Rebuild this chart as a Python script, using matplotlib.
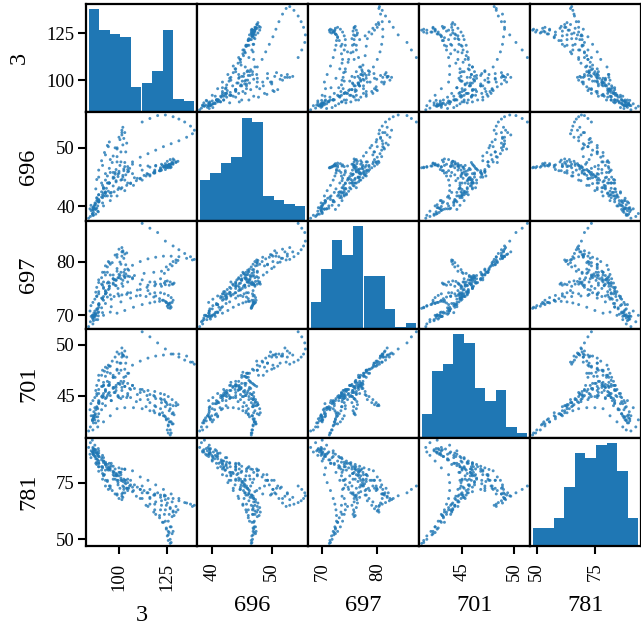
import numpy as np
import pandas as pd
import matplotlib
matplotlib.use("Agg")
import matplotlib.pyplot as plt

# values, one line per stretch of the trajectory
v3 = [112, 116, 120, 124, 128, 131, 134, 137, 139,
      138, 135, 131, 127, 123, 119, 115, 111,
      107, 103, 100, 97, 94, 92, 89.5, 88.5, 87.5, 86.5,
      85.5, 85.0, 85.6, 86.6, 87.6, 88.6,
      89.5, 91, 93, 95, 97, 99, 100.5, 101.5, 102, 101.5, 100, 98, 95.5, 93, 91.5, 89.5,
      88.5, 88, 88.5, 89.5, 91, 92.5, 94, 95, 94.5, 93, 91.5, 89.5,
      91, 94.5, 98.5, 103, 108, 113, 118, 122,
      124.5, 126.5, 128, 129.5, 130.5, 129.5, 127.5, 125.5, 123.5,
      121.5, 118.5, 115, 111, 106, 101.5, 97.5, 94,
      93.5, 95, 97.5, 100, 102.5, 104.5, 105.5, 104.5, 102, 99.5, 98, 98.5, 100.5, 103,
      107, 111, 115, 119, 122.5,
      124.5, 125.5, 126.5, 127, 126.5, 125.5, 125, 125.5, 126.5,
      124, 121, 118.5, 116, 112, 107.5, 103, 99,
      95.5, 92, 89, 86.5, 84.3, 85.2, 86.2,
      87.5, 89.5, 92, 95, 98, 101, 103.5, 104, 102, 99, 95.5, 92,
      91.5, 89.5, 88, 87, 86.5, 87.5, 89,
      91.5, 96, 101, 106, 111, 116, 118.5, 121.5,
      123.5, 125.5, 127, 128, 127.5, 126, 124.5, 123,
      121, 118, 114, 109, 104, 99.5, 95.5,
      93, 94.5, 97, 101, 103.5, 105, 104.5, 102.5, 99.5, 97, 98.5, 101.5,
      102, 107, 112, 116, 119, 122,
      124, 126, 127.5, 128.5, 128, 126.5, 125, 124, 123.5,
      121.5, 118.5, 114.5, 109.5, 104.5, 100, 96,
      93, 91, 89.5, 88, 87, 86.5, 87, 88.5, 89.7, 92,
      93, 95, 97, 99, 101, 102.5, 103, 101.5, 99, 96.5, 94, 92,
      93, 91.5, 89.6, 89, 87.8, 86.8, 86.3, 86.8, 88, 89.3]

v696 = [54.4, 55.0, 55.5, 55.6, 55.3, 54.9, 54.4, 53.7, 53.0,
        52.4, 51.8, 51.2, 50.7, 50.2, 49.6, 49.0, 48.4,
        47.6, 46.8, 46.0, 45.0, 44.0, 43.0, 42.0, 41.0, 40.2, 39.5,
        40.2, 39.6, 39.3, 39.8, 40.6, 41.4,
        41.0, 42.5, 44.5, 46.5, 48.6, 50.0, 51.4, 52.6, 53.5, 53.0, 51.8, 50.0, 48.0, 45.6, 43.6, 42.0,
        41.5, 43.0, 44.6, 46.2, 47.8, 49.2, 50.4, 51.0, 50.2, 48.8, 47.0, 45.0,
        44.0, 44.0, 44.2, 44.5, 44.9, 45.3, 45.7, 46.2,
        46.6, 46.9, 47.2, 47.5, 47.7, 47.6, 47.3, 47.0, 46.7,
        46.4, 46.0, 45.5, 44.7, 43.9, 43.2, 42.5, 41.8,
        43.1, 44.0, 44.9, 45.7, 46.4, 46.8, 46.5, 45.9, 45.3, 45.1, 45.5, 46.3, 47.0, 47.5,
        47.2, 47.0, 46.9, 46.9, 47.0,
        47.0, 46.9, 46.8, 46.7, 46.6, 46.6, 46.7, 46.9, 47.1,
        46.3, 46.1, 45.7, 45.2, 44.5, 43.6, 42.7, 41.8,
        41.0, 40.1, 39.2, 38.5, 38.0, 38.3, 38.8,
        39.6, 40.8, 42.3, 44.0, 45.8, 47.6, 49.3, 50.8, 50.5, 48.5, 45.8, 43.2,
        42.0, 41.2, 40.5, 40.0, 39.8, 40.3, 41.0,
        40.6, 41.8, 43.0, 44.0, 44.8, 45.4, 45.8, 46.1,
        46.8, 47.1, 47.3, 47.4, 47.3, 47.1, 46.9, 46.7,
        46.1, 45.8, 45.2, 44.4, 43.6, 42.9, 42.3,
        41.8, 42.6, 43.5, 44.5, 45.4, 46.0, 46.3, 46.1, 45.5, 44.8, 44.4, 44.6,
        45.0, 45.6, 46.2, 46.7, 47.0, 47.2,
        46.8, 47.2, 47.6, 47.9, 48.1, 48.0, 47.7, 47.3, 46.9,
        46.6, 46.2, 45.6, 44.8, 44.0, 43.2, 42.4,
        42.4, 41.6, 40.8, 39.6, 39.7, 39.4, 39.6, 39.7, 41.0, 41.8,
        42.5, 44.0, 45.8, 47.6, 49.3, 51.6, 52.6, 52.2, 49.8, 47.5, 45.2, 43.2,
        42.2, 41.5, 40.8, 40.1, 39.5, 39.0, 38.7, 38.5, 38.7, 39.1]

v697 = [87.1, 86.2, 85.4, 83.8, 82.9, 82.2, 81.5, 80.9, 80.4,
        80.3, 80.6, 80.9, 81.0, 81.0, 80.8, 80.5, 80.0,
        79.3, 78.5, 77.6, 76.8, 76.0, 75.2, 74.4, 73.6, 73.0, 72.4,
        71.8, 70.8, 69.8, 69.3, 69.8, 71.0,
        72.0, 73.2, 74.6, 76.0, 77.5, 78.7, 79.9, 81.0, 81.8, 82.6, 82.3, 81.2, 79.5, 77.5, 75.6, 74.0,
        73.5, 74.3, 75.2, 76.1, 77.0, 78.0, 79.0, 79.8, 80.0, 79.2, 78.0, 76.6,
        75.8, 76.2, 76.6, 77.0, 77.4, 77.8, 78.0, 78.2,
        79.0, 79.5, 80.0, 80.3, 80.2, 79.8, 79.2, 78.5, 77.8,
        76.8, 76.2, 75.6, 74.8, 74.2, 73.8, 73.5, 73.4,
        74.2, 75.4, 76.6, 77.0, 77.4, 77.3, 77.2, 76.2, 75.4, 75.0, 75.6, 76.5, 77.4, 77.2,
        77.0, 75.8, 74.6, 73.6, 72.8,
        72.4, 72.1, 71.8, 71.5, 71.3, 71.4, 71.7, 72.0, 72.3,
        72.6, 72.6, 72.5, 72.3, 72.0, 71.5, 70.9, 70.4,
        70.6, 70.0, 69.2, 68.4, 67.9, 68.8, 70.0,
        70.8, 72.0, 73.5, 75.0, 76.6, 78.0, 79.4, 81.6, 82.0, 80.8, 77.5, 75.0,
        73.0, 71.5, 70.2, 69.8, 69.9, 70.1, 70.5,
        70.5, 71.6, 72.5, 73.2, 73.7, 74.0, 74.2, 74.2,
        74.0, 73.7, 73.3, 72.8, 72.4, 72.2, 72.4, 72.8,
        73.1, 73.4, 73.5, 73.6, 73.9, 74.0, 73.8,
        74.0, 74.8, 75.8, 76.8, 77.7, 78.4, 78.6, 78.0, 77.0, 76.0, 75.5, 75.9,
        76.5, 76.8, 76.6, 76.2, 75.8, 75.4,
        75.7, 75.6, 75.8, 76.0, 75.8, 76.2, 76.4, 76.3, 76.0,
        75.8, 75.5, 75.2, 74.7, 74.2, 73.6, 73.0,
        72.2, 71.4, 70.6, 70.0, 69.6, 69.8, 70.4, 71.2, 72.0, 72.8,
        74.0, 75.4, 76.8, 78.2, 79.5, 80.6, 81.4, 81.8, 81.3, 79.8, 78.0, 76.2,
        74.4, 73.2, 72.2, 71.2, 70.4, 70.0, 69.5, 69.0, 69.2, 69.9]

v701 = [51.3, 50.8, 50.2, 49.6, 49.1, 48.8, 48.5, 48.3, 48.1,
        48.3, 48.9, 49.1, 49.1, 49.0, 48.9, 48.7, 48.4,
        48.0, 47.6, 47.2, 46.8, 46.4, 46.0, 45.6, 45.2, 44.8, 44.5,
        44.2, 43.6, 43.0, 42.7, 43.1, 43.8,
        44.3, 44.9, 45.6, 46.3, 47.0, 47.6, 48.2, 48.8, 49.0, 49.2, 49.1, 48.8, 47.9, 46.9, 45.9, 45.2,
        45.0, 45.5, 46.0, 46.5, 47.0, 47.4, 47.7, 47.9, 48.0, 47.8, 47.5, 47.0,
        45.9, 46.0, 46.0, 45.9, 45.7, 45.4, 45.0, 44.6,
        44.3, 44.1, 44.0, 44.0, 44.1, 44.3, 44.6, 44.9, 45.1,
        45.2, 45.4, 45.5, 45.6, 45.6, 45.5, 45.3, 45.0,
        44.8, 45.3, 45.8, 46.2, 46.4, 46.2, 45.7, 45.2, 44.9, 44.9, 45.3, 45.8, 46.1, 45.9,
        46.0, 45.3, 44.6, 43.9, 43.3,
        42.6, 42.1, 41.6, 41.3, 41.1, 41.3, 41.6, 42.0, 42.4,
        42.9, 43.1, 43.3, 43.5, 43.7, 43.8, 43.8, 43.7,
        43.0, 42.4, 41.9, 41.6, 41.5, 41.9, 42.6,
        43.8, 44.5, 45.2, 46.0, 46.8, 47.5, 48.2, 48.8, 49.0, 48.3, 47.2, 46.0,
        45.0, 44.3, 43.6, 43.0, 42.6, 42.6, 42.9,
        44.2, 44.5, 44.7, 44.8, 44.6, 44.3, 44.0, 43.7,
        43.0, 42.7, 42.4, 42.2, 42.2, 42.4, 42.7, 43.0,
        43.2, 43.5, 43.9, 44.4, 44.8, 45.0, 45.0,
        44.7, 45.2, 45.8, 46.4, 46.9, 47.2, 47.2, 46.8, 46.2, 45.7, 45.5, 45.8,
        46.2, 46.0, 45.6, 45.1, 44.7, 44.3,
        43.9, 43.5, 43.2, 43.1, 43.3, 43.7, 44.1, 44.4, 44.6,
        44.7, 44.9, 45.0, 45.1, 45.0, 44.8, 44.5,
        44.0, 43.6, 43.2, 42.9, 42.8, 43.0, 43.4, 43.9, 44.4, 44.9,
        45.5, 46.1, 46.8, 47.5, 48.2, 48.9, 49.4, 49.7, 49.3, 48.4, 47.3, 46.3,
        45.4, 44.8, 44.2, 43.7, 43.2, 42.8, 42.5, 42.3, 42.3, 42.5]

v781 = [73.5, 72.0, 70.5, 69.2, 68.0, 67.0, 66.2, 65.5, 65.0,
        64.5, 66.0, 68.0, 70.0, 72.0, 74.0, 76.0, 77.5,
        80.2, 80.8, 81.5, 82.2, 83.0, 83.8, 84.5, 85.5, 86.5, 87.5,
        86.0, 87.5, 89.0, 90.0, 89.5, 88.0,
        88.0, 86.0, 83.5, 81.0, 78.5, 76.0, 72.5, 70.0, 68.5, 67.5, 68.0, 70.0, 72.5, 76.0, 79.0, 82.0,
        84.0, 83.5, 83.0, 82.0, 80.5, 78.5, 76.0, 73.5, 72.0, 73.5, 76.5, 80.0,
        82.0, 80.5, 78.5, 76.0, 74.0, 71.5, 69.5, 67.0,
        65.0, 63.5, 62.5, 62.0, 63.0, 64.5, 66.5, 68.0, 69.5,
        68.5, 69.5, 70.5, 72.0, 74.0, 76.0, 78.0, 81.0,
        82.0, 81.0, 79.5, 78.0, 76.5, 75.0, 73.5, 72.5, 73.5, 75.0, 76.5, 78.0, 79.5, 81.0,
        71.0, 68.0, 64.5, 61.0, 57.5,
        54.5, 52.0, 50.0, 48.6, 48.2, 49.5, 51.5, 53.5, 55.5,
        58.0, 60.5, 63.0, 65.5, 68.0, 71.5, 75.0, 78.5,
        81.5, 84.5, 87.0, 88.5, 90.5, 92.6, 93.7,
        91.5, 89.0, 86.0, 83.5, 81.0, 78.5, 76.0, 72.5, 70.5, 70.0, 73.5, 78.0,
        81.5, 83.5, 85.5, 87.0, 88.0, 88.5, 87.5,
        87.0, 83.5, 79.5, 76.0, 72.0, 68.0, 65.5, 63.0,
        61.0, 58.0, 55.5, 53.5, 52.5, 53.0, 55.0, 57.5,
        59.5, 62.0, 65.0, 69.0, 72.5, 76.0, 80.5,
        83.0, 81.5, 79.5, 77.0, 74.5, 72.5, 71.5, 72.0, 74.0, 76.5, 79.0, 81.0,
        75.5, 73.0, 70.5, 68.5, 66.5, 65.0,
        63.0, 61.0, 60.0, 60.5, 62.0, 64.0, 66.0, 67.5, 69.0,
        69.5, 70.0, 70.5, 73.0, 76.5, 79.5, 82.5,
        83.0, 85.0, 86.5, 88.0, 89.5, 90.5, 89.8, 88.5, 86.5, 84.5,
        84.0, 82.0, 80.0, 78.0, 76.0, 73.0, 70.5, 69.0, 69.5, 71.5, 75.5, 78.5,
        80.5, 82.0, 83.5, 85.0, 86.5, 87.5, 88.5, 89.0, 89.5, 90.0]

cols = ["3", "696", "697", "701", "781"]
tick_vals = {"3": [100, 125], "696": [40, 50], "697": [70, 80],
             "701": [45, 50], "781": [50, 75]}

plt.rcParams["font.family"] = ["Liberation Serif", "DejaVu Serif"]
plt.rcParams["axes.linewidth"] = 1.6

df = pd.DataFrame({"3": v3, "696": v696, "697": v697, "701": v701, "781": v781})

axes = pd.plotting.scatter_matrix(df, figsize=(6.41, 6.26), alpha=0.8, s=18,
                                  diagonal="hist")
fig = axes[0, 0].get_figure()
fig.subplots_adjust(left=86 / 641, right=1.0, bottom=1 - 546 / 626, top=1 - 4 / 626,
                    wspace=0, hspace=0)

n = len(cols)
for i in range(n):
    for j in range(n):
        ax = axes[i, j]
        ax.tick_params(labelsize=13.5, length=6, width=1.5)
        ax.tick_params(axis="x", pad=6)
        ax.tick_params(axis="y", pad=2)
        ax.xaxis.label.set_fontsize(17.5)
        ax.yaxis.label.set_fontsize(17.5)
        ax.xaxis.labelpad = 10
        ax.yaxis.labelpad = 12
        if i == n - 1:
            ax.set_xticks(tick_vals[cols[j]])
            ax.tick_params(axis="x", labelrotation=90)
        if j == 0 and i > 0:
            ax.set_yticks(tick_vals[cols[i]])

# top-left cell is a histogram, so map the "3" ticks onto its count axis
lo, hi = axes[0, 1].get_ylim()
y0, y1 = axes[0, 0].get_ylim()
t = np.array(tick_vals["3"])
axes[0, 0].set_yticks((t - lo) / (hi - lo) * (y1 - y0) + y0, labels=[str(v) for v in t])

fig.savefig("out.png", dpi=100)
